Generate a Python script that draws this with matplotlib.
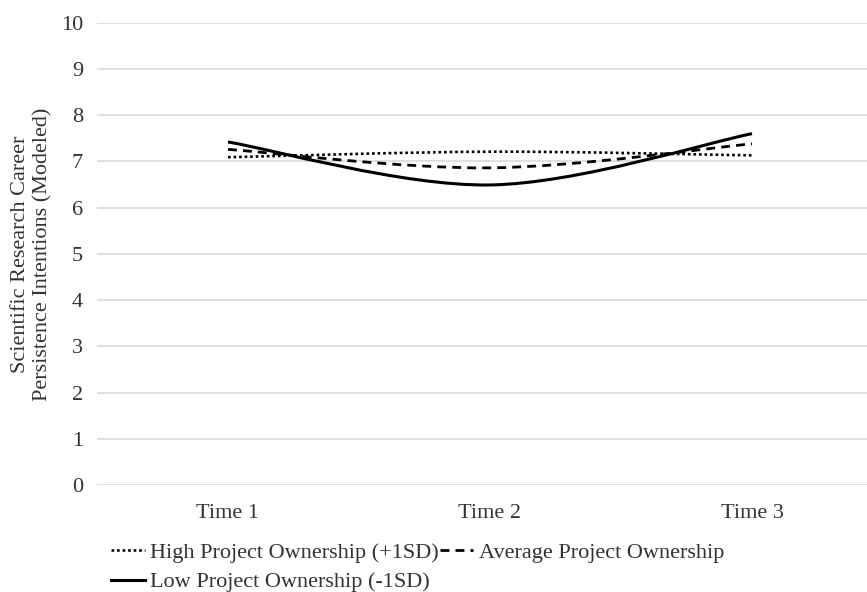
import numpy as np
import matplotlib.pyplot as plt
from matplotlib.path import Path
from matplotlib.patches import PathPatch
from matplotlib.lines import Line2D

plt.rcParams['font.family'] = ['Liberation Serif', 'DejaVu Serif']

# data
times = ['Time 1', 'Time 2', 'Time 3']
high = [7.09, 7.21, 7.13]
average = [7.26, 6.86, 7.38]
low = [7.42, 6.49, 7.60]

names = ['High Project Ownership (+1SD)', 'Average Project Ownership', 'Low Project Ownership (-1SD)']
styles = [(0, (1.0, 1.1)), (0, (3.2, 2.2)), '-']
widths = [1.9, 2.0, 2.2]
FS = 16


def smooth_path(xs, ys):
    # excel style smoothed line: bezier segments through the points
    p = np.column_stack([xs, ys]).astype(float)
    pp = np.vstack([p[0], p, p[-1]])
    verts = [p[0]]
    codes = [Path.MOVETO]
    for i in range(len(p) - 1):
        a, b, c, d = pp[i], pp[i + 1], pp[i + 2], pp[i + 3]
        verts += [b + (c - a) / 6, c - (d - b) / 6, c]
        codes += [Path.CURVE4] * 3
    return Path(verts, codes)


fig = plt.figure(figsize=(8.67, 5.92), dpi=100)
ax = fig.add_axes([97 / 867, 1 - 485 / 592, 786 / 867, (485 - 22.7) / 592])

x = np.arange(len(times))
for vals, st, lw in zip([high, average, low], styles, widths):
    ax.add_patch(PathPatch(smooth_path(x, vals), fill=False, edgecolor='black',
                           linestyle=st, linewidth=lw, capstyle='butt', zorder=3))

ax.set_xlim(-0.5, 2.5)
ax.set_ylim(0, 10)
ax.set_yticks(range(0, 11))
ax.set_xticks(x)
ax.set_xticklabels(times)
ax.tick_params(length=0, labelsize=FS, colors='#333333')
ax.tick_params(axis='x', pad=14)
ax.tick_params(axis='y', pad=10)
ax.grid(axis='y', color='#d9d9d9', linewidth=1.2)
ax.set_axisbelow(True)
for s in ax.spines.values():
    s.set_visible(False)

ax.set_ylabel('Scientific Research Career\nPersistence Intentions (Modeled)',
              fontsize=FS, color='#333333', labelpad=6, linespacing=1.25)

handles = [Line2D([], [], color='black', linestyle=st, linewidth=lw) for st, lw in zip(styles, widths)]
# order so that rows read High, Average / Low
leg = fig.legend([handles[0], handles[2], handles[1]], [names[0], names[2], names[1]],
                 ncol=2, loc='lower left', bbox_to_anchor=(98 / 867, -0.023), frameon=False,
                 fontsize=FS, handlelength=1.5, handletextpad=0.25, columnspacing=0.05,
                 labelspacing=0.4, borderaxespad=0.2)
for t in leg.get_texts():
    t.set_color('#333333')

fig.savefig('out.png', dpi=100)
